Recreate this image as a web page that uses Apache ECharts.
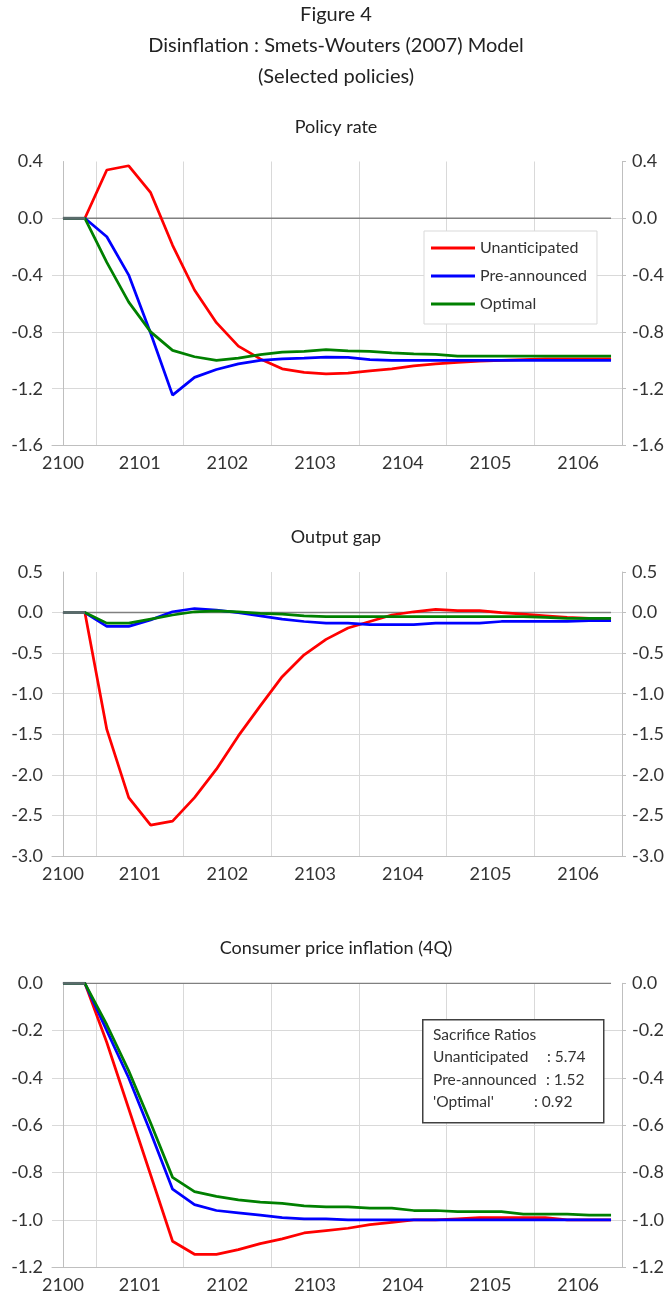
<!DOCTYPE html>
<html>
<head>
<meta charset="utf-8">
<script src="https://cdn.jsdelivr.net/npm/echarts@6/dist/echarts.min.js"></script>
<style>
  html, body { margin: 0; padding: 0; background: #ffffff; }
  #chart { width: 672px; height: 1297px; }
</style>
</head>
<body>
<div id="chart"></div>
<script>
// Quarterly horizon of the simulation (2100Q1 .. 2106Q2)
const quarters = [
  '2100Q1','2100Q2','2100Q3','2100Q4','2101Q1','2101Q2','2101Q3','2101Q4',
  '2102Q1','2102Q2','2102Q3','2102Q4','2103Q1','2103Q2','2103Q3','2103Q4',
  '2104Q1','2104Q2','2104Q3','2104Q4','2105Q1','2105Q2','2105Q3','2105Q4',
  '2106Q1','2106Q2'
];
const yearLabels = ['2100', '2101', '2102', '2103', '2104', '2105', '2106'];
const seriesNames = ['Unanticipated', 'Pre-announced', 'Optimal'];

// Policy rate
const rateUnanticipated = [0, 0, 0.34, 0.37, 0.18, -0.19, -0.505, -0.735, -0.90, -0.99,
  -1.06, -1.085, -1.095, -1.09, -1.075, -1.06, -1.04, -1.025, -1.015, -1.005,
  -1.0, -0.995, -0.99, -0.99, -0.99, -0.99];
const ratePreannounced = [0, 0, -0.13, -0.40, -0.81, -1.245, -1.12, -1.065, -1.025, -1.0,
  -0.99, -0.985, -0.978, -0.98, -0.995, -1.0, -1.0, -1.0, -1.0, -1.0,
  -1.0, -1.0, -1.0, -1.0, -1.0, -1.0];
const rateOptimal = [0, 0, -0.31, -0.59, -0.80, -0.93, -0.975, -1.0, -0.985, -0.96,
  -0.942, -0.937, -0.925, -0.934, -0.937, -0.948, -0.955, -0.958, -0.97, -0.97,
  -0.97, -0.97, -0.97, -0.97, -0.97, -0.97];

// Output gap
const gapUnanticipated = [0, 0, -1.44, -2.28, -2.62, -2.57, -2.28, -1.93, -1.52, -1.15,
  -0.79, -0.52, -0.33, -0.19, -0.11, -0.03, 0.01, 0.04, 0.025, 0.025,
  0.0, -0.02, -0.04, -0.06, -0.07, -0.08];
const gapPreannounced = [0, 0, -0.17, -0.17, -0.09, 0.01, 0.05, 0.03, 0.0, -0.04,
  -0.08, -0.11, -0.13, -0.13, -0.15, -0.15, -0.15, -0.13, -0.13, -0.13,
  -0.11, -0.11, -0.11, -0.11, -0.10, -0.10];
const gapOptimal = [0, 0, -0.13, -0.13, -0.08, -0.03, 0.01, 0.02, 0.01, -0.01,
  -0.02, -0.04, -0.05, -0.05, -0.05, -0.05, -0.05, -0.05, -0.05, -0.05,
  -0.05, -0.05, -0.06, -0.07, -0.07, -0.07];

// Consumer price inflation (4Q)
const cpiUnanticipated = [0, 0, -0.25, -0.53, -0.81, -1.09, -1.145, -1.145, -1.125, -1.10,
  -1.08, -1.055, -1.045, -1.035, -1.02, -1.01, -1.0, -1.0, -0.995, -0.99,
  -0.99, -0.99, -0.99, -1.0, -1.0, -1.0];
const cpiPreannounced = [0, 0, -0.20, -0.40, -0.63, -0.87, -0.935, -0.96, -0.97, -0.98,
  -0.99, -0.995, -0.995, -1.0, -1.0, -1.0, -1.0, -1.0, -1.0, -1.0,
  -1.0, -1.0, -1.0, -1.0, -1.0, -1.0];
const cpiOptimal = [0, 0, -0.175, -0.37, -0.59, -0.82, -0.88, -0.90, -0.915, -0.925,
  -0.93, -0.94, -0.945, -0.945, -0.95, -0.95, -0.96, -0.96, -0.965, -0.965,
  -0.965, -0.975, -0.975, -0.975, -0.98, -0.98];

// Steady-state reference line and the pre-shock quarters
const zeroLine = [0, 0, 0, 0, 0, 0, 0, 0, 0, 0, 0, 0, 0, 0, 0, 0, 0, 0, 0, 0, 0, 0, 0, 0, 0, 0];
const preShock = [0, 0];

// Sacrifice ratios shown in the inflation panel
const sacrificeNames = ['Unanticipated', 'Pre-announced', "'Optimal'"];
const sacrificeRatios = [5.74, 1.52, 0.92];

const FONT = 'Lato';
const TEXT = '#333333';
const GRID_LINE = '#d9d9d9';
const AXIS_LINE = '#bfbfbf';
const COLORS = ['#ff0000', '#0000ff', '#008000'];

const panels = [
  { title: 'Policy rate', titleY: 127, top: 161.5, min: -1.6, max: 0.4, interval: 0.4,
    data: [rateUnanticipated, ratePreannounced, rateOptimal] },
  { title: 'Output gap', titleY: 537, top: 572, min: -3.0, max: 0.5, interval: 0.5,
    data: [gapUnanticipated, gapPreannounced, gapOptimal] },
  { title: 'Consumer price inflation (4Q)', titleY: 948, top: 983.3, min: -1.2, max: 0, interval: 0.2,
    data: [cpiUnanticipated, cpiPreannounced, cpiOptimal] }
];

const nQ = quarters.length;
// year boundaries sit between the fourth and first quarter; first label at the first quarter
const labelValues = yearLabels.map((y, k) => (k === 0 ? 0 : 4 * k - 0.5));
const gridValues = [];
for (let v = 1.5; v < nQ - 0.5; v += 4) gridValues.push(v);

const toPoints = arr => arr.map((v, i) => [i, v]);
const fmtY = v => (Math.abs(v) < 1e-9 ? '0.0' : v.toFixed(1));

const option = {
  backgroundColor: '#ffffff',
  animation: false,
  textStyle: { fontFamily: FONT },
  title: [
    { text: 'Figure 4', left: 'center', top: 4, padding: 0,
      textStyle: { fontFamily: FONT, fontSize: 20, fontWeight: 'normal', color: '#222', lineHeight: 22 } },
    { text: 'Disinflation : Smets-Wouters (2007) Model', left: 'center', top: 35, padding: 0,
      textStyle: { fontFamily: FONT, fontSize: 20, fontWeight: 'normal', color: '#222', lineHeight: 22 } },
    { text: '(Selected policies)', left: 'center', top: 66, padding: 0,
      textStyle: { fontFamily: FONT, fontSize: 20, fontWeight: 'normal', color: '#222', lineHeight: 22 } }
  ].concat(panels.map(p => ({
    text: p.title, left: 'center', top: p.titleY - 10, padding: 0,
    textStyle: { fontFamily: FONT, fontSize: 18, fontWeight: 'normal', color: '#222', lineHeight: 20 }
  }))),
  legend: {
    data: seriesNames,
    orient: 'vertical',
    left: 424, top: 231,
    padding: [9, 10, 12, 7],
    icon: 'rect',
    itemWidth: 44, itemHeight: 3, itemGap: 12,
    borderColor: '#d9d9d9', borderWidth: 1,
    backgroundColor: '#ffffff',
    textStyle: { fontFamily: FONT, fontSize: 16, color: TEXT, lineHeight: 14 }
  },
  grid: panels.map(p => ({ left: 52, top: p.top, width: 570, height: 284, containLabel: false, outerBoundsMode: 'none' })),
  xAxis: panels.map((p, g) => ({
    type: 'value', gridIndex: g, min: -0.5, max: nQ - 0.5,
    axisLine: { show: true, onZero: false, lineStyle: { color: AXIS_LINE, width: 1 } },
    axisTick: { show: false, customValues: gridValues },
    splitLine: { show: true, lineStyle: { color: GRID_LINE, width: 1 } },
    axisLabel: {
      customValues: labelValues, margin: 9,
      fontFamily: FONT, fontSize: 18, color: TEXT,
      formatter: v => yearLabels[labelValues.indexOf(v)] || ''
    }
  })),
  yAxis: panels.flatMap((p, g) => ([
    {
      type: 'value', gridIndex: g, position: 'left', min: p.min, max: p.max, interval: p.interval,
      axisLine: { show: true, lineStyle: { color: AXIS_LINE, width: 1 } },
      axisTick: { show: false },
      splitLine: { show: true, showMaxLine: false, lineStyle: { color: GRID_LINE, width: 1 } },
      axisLabel: { margin: 9, fontFamily: FONT, fontSize: 18, color: TEXT, formatter: fmtY }
    },
    {
      type: 'value', gridIndex: g, position: 'right', min: p.min, max: p.max, interval: p.interval,
      axisLine: { show: true, lineStyle: { color: AXIS_LINE, width: 1 } },
      axisTick: { show: true, inside: false, length: 4, lineStyle: { color: AXIS_LINE } },
      splitLine: { show: false },
      axisLabel: { margin: 10, fontFamily: FONT, fontSize: 18, color: TEXT, formatter: fmtY }
    }
  ])),
  series: panels.flatMap((p, g) => ([
    {
      name: 'zero', type: 'line', xAxisIndex: g, yAxisIndex: 2 * g, data: toPoints(zeroLine),
      symbol: 'none', silent: true, z: 1,
      lineStyle: { color: '#808080', width: 1.5 }
    }
  ].concat(p.data.map((arr, k) => ({
    name: seriesNames[k], type: 'line', xAxisIndex: g, yAxisIndex: 2 * g,
    data: toPoints(arr), symbol: 'none', z: 2 + k,
    lineStyle: { color: COLORS[k], width: 2.75 }, itemStyle: { color: COLORS[k] }
  }))).concat([
    {
      name: 'pre-shock', type: 'line', xAxisIndex: g, yAxisIndex: 2 * g, data: toPoints(preShock),
      symbol: 'none', silent: true, z: 6,
      lineStyle: { color: '#5a6b6b', width: 3 }
    }
  ]))),
  graphic: [
    {
      type: 'rect', left: 422, top: 1019, z: 10,
      shape: { width: 181, height: 103 },
      style: { fill: '#ffffff', stroke: '#404040', lineWidth: 1.5 }
    },
    {
      type: 'text', x: 433, y: 1035, z: 11,
      style: { text: 'Sacrifice Ratios', fontFamily: FONT, fontSize: 15.5, fill: TEXT, verticalAlign: 'middle' }
    }
  ].concat(sacrificeNames.flatMap((name, k) => ([
    {
      type: 'text', x: 433, y: 1057 + 22.5 * k, z: 11,
      style: { text: name, fontFamily: FONT, fontSize: 15.5, fill: TEXT, verticalAlign: 'middle' }
    },
    {
      type: 'text', x: [547, 546, 534][k], y: 1057 + 22.5 * k, z: 11,
      style: { text: ': ' + sacrificeRatios[k].toFixed(2), fontFamily: FONT, fontSize: 15.5, fill: TEXT, verticalAlign: 'middle' }
    }
  ])))
};

const chart = echarts.init(document.getElementById('chart'), null, { renderer: 'canvas', width: 672, height: 1297 });
chart.setOption(option);
</script>
</body>
</html>
